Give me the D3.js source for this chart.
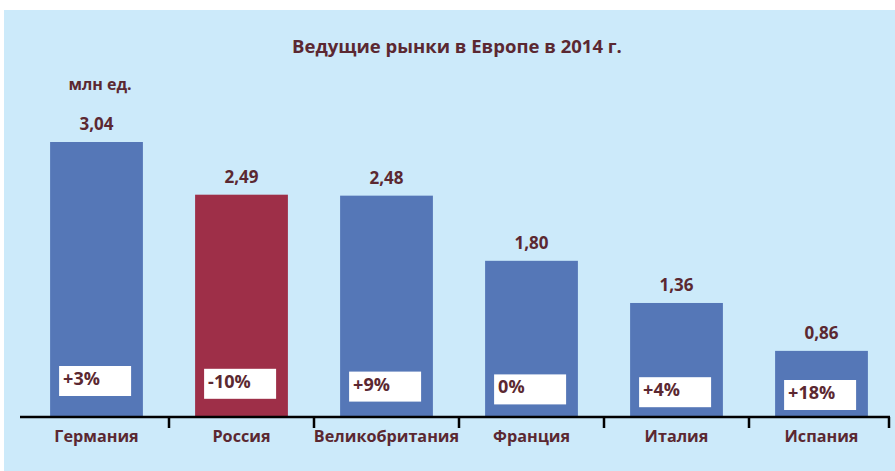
<!DOCTYPE html>
<html>
<head>
<meta charset="utf-8">
<script src="https://cdn.jsdelivr.net/npm/d3@7"></script>
<style>
  body { margin: 0; background: #fff; }
  text { font-family: "Open Sans", "Noto Sans", sans-serif; font-weight: bold; fill: #5b2831; }
</style>
</head>
<body>
<script>
const countries = ["Германия", "Россия", "Великобритания", "Франция", "Италия", "Испания"];
const sales = [3.04, 2.49, 2.48, 1.80, 1.36, 0.86];
const salesLabels = ["3,04", "2,49", "2,48", "1,80", "1,36", "0,86"];
const change = ["+3%", "-10%", "+9%", "0%", "+4%", "+18%"];

const width = 895;
const height = 471;
const baseY = 417;

const svg = d3.select("body").append("svg")
    .attr("width", width)
    .attr("height", height);

// light blue panel
svg.append("rect")
    .attr("x", 4).attr("y", 10)
    .attr("width", width - 4).attr("height", height - 10)
    .attr("fill", "#cceafa");

const x = d3.scaleBand()
    .domain(countries)
    .range([24, 894])
    .paddingInner(0.36)
    .paddingOuter(0.18);

// the original chart baseline does not start at zero
const y = d3.scaleLinear()
    .domain([0.17, 3.04])
    .range([baseY, 142]);

svg.append("text")
    .attr("x", 457).attr("y", 53)
    .attr("text-anchor", "middle")
    .attr("font-size", "18.5px")
    .text("Ведущие рынки в Европе в 2014 г.");

svg.append("text")
    .attr("x", 100).attr("y", 90)
    .attr("text-anchor", "middle")
    .attr("font-size", "16px")
    .text("млн ед.");

const bars = svg.append("g")
    .selectAll("g")
    .data(countries)
    .join("g");

bars.append("rect")
    .attr("x", d => x(d))
    .attr("y", (d, i) => y(sales[i]))
    .attr("width", x.bandwidth())
    .attr("height", (d, i) => baseY - y(sales[i]))
    .attr("fill", d => d === "Россия" ? "#9e2f48" : "#5577b7");

bars.append("text")
    .attr("x", d => x(d) + x.bandwidth() / 2)
    .attr("y", (d, i) => y(sales[i]) - 12)
    .attr("text-anchor", "middle")
    .attr("font-size", "17px")
    .text((d, i) => salesLabels[i]);

// white change boxes
bars.append("rect")
    .attr("x", d => x(d) + 9)
    .attr("y", (d, i) => baseY - 51 + i * 2.8)
    .attr("width", 72)
    .attr("height", 30)
    .attr("fill", "#fff");

bars.append("text")
    .attr("x", d => x(d) + 13)
    .attr("y", (d, i) => baseY - 51 + i * 2.8 + 19)
    .attr("font-size", "18px")
    .text((d, i) => change[i]);

bars.append("text")
    .attr("x", d => x(d) + x.bandwidth() / 2)
    .attr("y", 442)
    .attr("text-anchor", "middle")
    .attr("font-size", "16.2px")
    .text(d => d);

// axis line and ticks between categories
const axis = svg.append("g").attr("stroke", "#000").attr("stroke-width", 2.5);
axis.append("line")
    .attr("x1", 20).attr("x2", 890)
    .attr("y1", baseY).attr("y2", baseY);

const step = x.step();
axis.selectAll(".tick")
    .data(countries)
    .join("line")
    .attr("class", "tick")
    .attr("x1", d => Math.min(x(d) + x.bandwidth() + (step - x.bandwidth()) / 2, 889))
    .attr("x2", d => Math.min(x(d) + x.bandwidth() + (step - x.bandwidth()) / 2, 889))
    .attr("y1", baseY).attr("y2", baseY + 11);
</script>
</body>
</html>
